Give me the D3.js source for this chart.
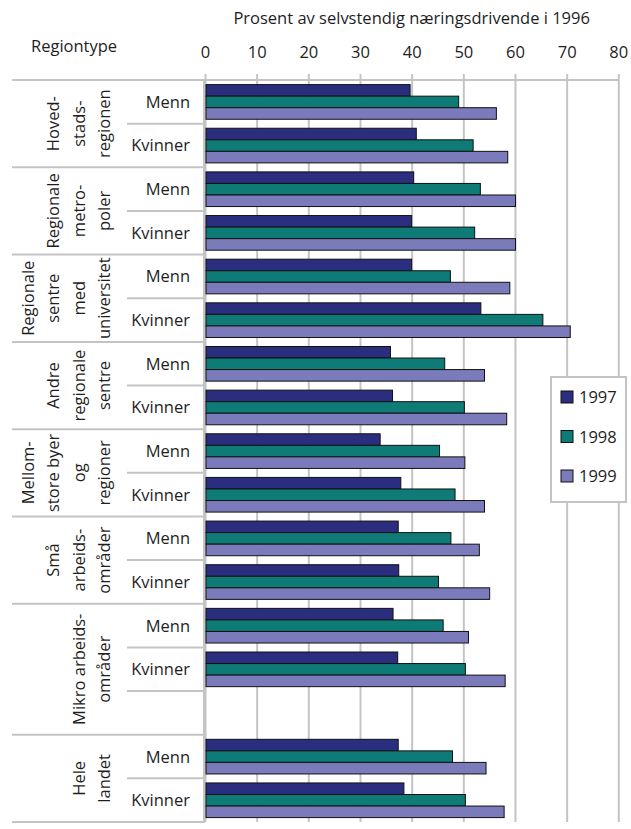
<!DOCTYPE html>
<html>
<head>
<meta charset="utf-8">
<script src="https://cdn.jsdelivr.net/npm/d3@7"></script>
<style>
  body { margin: 0; background: #fff; }
  text { font-family: "Open Sans", sans-serif; font-size: 16.5px; fill: #1e1e1e; }
</style>
</head>
<body>
<svg width="631" height="829"></svg>
<script>
// data
const years = ['1997', '1998', '1999'];
const colors = ['#2b2e7f', '#0e7b76', '#7b7bbb'];
const regionLines = [
    ['Hoved-', 'stads-', 'regionen'],
    ['Regionale', 'metro-', 'poler'],
    ['Regionale', 'sentre', 'med', 'universitet'],
    ['Andre', 'regionale', 'sentre'],
    ['Mellom-', 'store byer', 'og', 'regioner'],
    ['Små', 'arbeids-', 'områder'],
    ['Mikro arbeids-', 'områder'],
    ['Hele', 'landet']
];
// number of rows each region takes (Mikro has an empty third row)
const regionRows = [2, 2, 2, 2, 2, 2, 3, 2];
const genders = ['Menn', 'Kvinner'];
const v1997 = [39.7, 40.9, 40.4, 40.0, 40.0, 53.4, 35.9, 36.3, 33.9, 37.9, 37.4, 37.5, 36.4, 37.3, 37.4, 38.5];
const v1998 = [49.1, 51.9, 53.3, 52.2, 47.5, 65.4, 46.4, 50.2, 45.4, 48.4, 47.6, 45.2, 46.1, 50.4, 47.9, 50.4];
const v1999 = [56.4, 58.6, 60.1, 60.1, 59.0, 70.7, 54.1, 58.4, 50.3, 54.1, 53.1, 55.1, 51.0, 58.1, 54.4, 57.9];
const xTicks = [0, 10, 20, 30, 40, 50, 60, 70, 80];

const svg = d3.select('svg');

// build the row list: every region gets Menn + Kvinner (+ blank rows)
const rows = [];
let k = 0;
regionLines.forEach((lines, r) => {
    for (let j = 0; j < regionRows[r]; j++) {
        if (j < 2) {
            rows.push({ key: r + '-' + j, region: r, gender: genders[j], vals: [v1997[k], v1998[k], v1999[k]] });
            k++;
        } else {
            rows.push({ key: r + '-' + j, region: r, gender: null, vals: null });
        }
    }
});

const yTop = 80, yBottom = 822;
const x = d3.scaleLinear().domain([0, 80]).range([205, 618.3]);
const y = d3.scaleBand().domain(rows.map(d => d.key)).range([yTop, yBottom]);
const yIn = d3.scaleBand().domain(years).range([4.6, y.bandwidth() - 4.4]);

const grey = '#c4c4c4';

// grid + ticks
const axis = svg.append('g')
    .attr('transform', 'translate(0,74)')
    .call(d3.axisTop(x).tickValues(xTicks).tickSize(-(yBottom - 74)).tickFormat(d3.format('d')));
axis.select('.domain').remove();
axis.selectAll('line').attr('stroke', grey).attr('stroke-width', 2);
axis.selectAll('text').attr('y', -16).style('font-size', '16.5px').style('font-family', '"Open Sans", sans-serif').attr('fill', '#1e1e1e');

// top line across the chart
svg.append('line')
    .attr('x1', 12).attr('x2', x(80)).attr('y1', yTop).attr('y2', yTop)
    .attr('stroke', grey).attr('stroke-width', 2);

// group separators
let rowIdx = 0;
const groupBounds = [];
regionRows.forEach((n, r) => {
    const y0 = y(rows[rowIdx].key);
    const y1 = y(rows[rowIdx + n - 1].key) + y.bandwidth();
    groupBounds.push([y0, y1]);
    // sub lines between rows
    for (let j = 1; j < n; j++) {
        const yy = y(rows[rowIdx + j].key);
        svg.append('line')
            .attr('x1', 127).attr('x2', 205).attr('y1', yy).attr('y2', yy)
            .attr('stroke', grey).attr('stroke-width', 2);
    }
    svg.append('line')
        .attr('x1', 12).attr('x2', 205).attr('y1', y1).attr('y2', y1)
        .attr('stroke', grey).attr('stroke-width', 2);
    rowIdx += n;
});

// bars
const rowG = svg.selectAll('g.row')
    .data(rows.filter(d => d.vals))
    .enter()
    .append('g')
    .attr('class', 'row')
    .attr('transform', d => `translate(0,${y(d.key)})`);

rowG.selectAll('rect')
    .data(d => d.vals.map((v, i) => ({ v, year: years[i], i })))
    .enter()
    .append('rect')
    .attr('x', x(0) + 1)
    .attr('y', d => yIn(d.year))
    .attr('width', d => x(d.v) - x(0) - 1)
    .attr('height', yIn.bandwidth())
    .attr('fill', d => colors[d.i])
    .attr('stroke', '#111')
    .attr('stroke-width', 1);

// axis line at zero
svg.append('line')
    .attr('x1', 204).attr('x2', 204).attr('y1', yTop).attr('y2', yBottom)
    .attr('stroke', grey).attr('stroke-width', 2);

// Menn / Kvinner labels
rowG.append('text')
    .attr('x', 190)
    .attr('y', y.bandwidth() / 2 + 6)
    .attr('text-anchor', 'end')
    .text(d => d.gender);

// rotated region labels
regionLines.forEach((lines, r) => {
    const cy = (groupBounds[r][0] + groupBounds[r][1]) / 2;
    const n = lines.length;
    lines.forEach((line, j) => {
        const cx = 104 - (n - 1 - j) * 25.5;
        svg.append('text')
            .attr('transform', `translate(${cx + 6},${cy}) rotate(-90)`)
            .attr('text-anchor', 'middle')
            .text(line);
    });
});

// header texts
svg.append('text')
    .attr('x', (x(0) + x(80)) / 2)
    .attr('y', 24)
    .attr('text-anchor', 'middle')
    .text('Prosent av selvstendig næringsdrivende i 1996');

svg.append('text')
    .attr('x', 31)
    .attr('y', 52)
    .text('Regiontype');

// legend
const legend = svg.append('g').attr('transform', 'translate(551,377)');
legend.append('rect')
    .attr('width', 75).attr('height', 125)
    .attr('fill', '#fff')
    .attr('stroke', grey).attr('stroke-width', 2);
const li = legend.selectAll('g.item')
    .data(years)
    .enter()
    .append('g')
    .attr('transform', (d, i) => `translate(10,${14 + i * 39.5})`);
li.append('rect')
    .attr('width', 12).attr('height', 12)
    .attr('fill', (d, i) => colors[i])
    .attr('stroke', '#111').attr('stroke-width', 1);
li.append('text')
    .attr('x', 18)
    .attr('y', 12)
    .text(d => d);
</script>
</body>
</html>
